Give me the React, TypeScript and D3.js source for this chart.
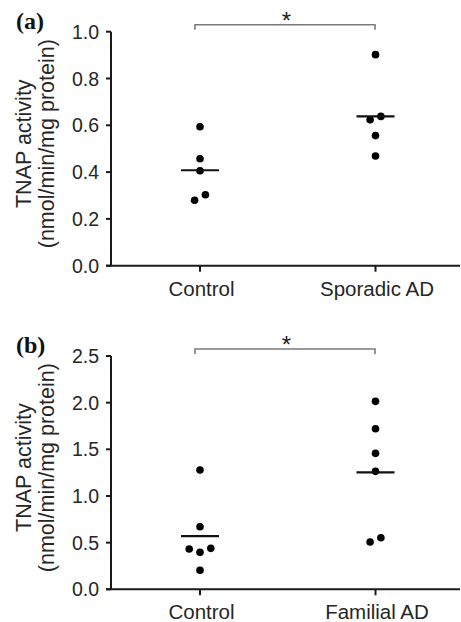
import React from "react";
import * as d3 from "d3";

// ---------- data ----------
const panelLabels = ["(a)", "(b)"];
const categoriesA = ["Control", "Sporadic AD"];
const categoriesB = ["Control", "Familial AD"];

const controlA = [0.594, 0.457, 0.406, 0.303, 0.28];
const sporadicAD = [0.902, 0.638, 0.624, 0.556, 0.469];
const controlB = [1.278, 0.671, 0.432, 0.396, 0.439, 0.204];
const familialAD = [2.014, 1.721, 1.457, 1.264, 0.507, 0.553];

// horizontal jitter slots (column offsets of overlapping dots)
const jitterControlA = [0, 0, 0, 0.5, -0.5];
const jitterSporadic = [0, 0.5, -0.5, 0, 0];
const jitterControlB = [0, 0, -1, 0, 1, 0];
const jitterFamilial = [0, 0, 0, 0, -0.5, 0.5];

const ticksA = [0, 0.2, 0.4, 0.6, 0.8, 1.0];
const ticksB = [0, 0.5, 1.0, 1.5, 2.0, 2.5];

const yTitle1 = "TNAP activity";
const yTitle2 = "(nmol/min/mg protein)";
const sigMark = "*";

// ---------- layout ----------
const W = 461;
const H = 622;
const AXIS_X = 111;
const X_RIGHT = 460;
const CAT_RANGE: [number, number] = [200, 375.5];
const JITTER_UNIT = 10.8;
const MEAN_HALF = 19;
const FONT = "'Liberation Sans', Arial, Helvetica, sans-serif";
const TEXT = "#262626";
const AXIS = "#1a1a1a";

type PanelProps = {
  label: string;
  cats: string[];
  groups: number[][];
  jitters: number[][];
  ticks: number[];
  yTop: number;
  yBottom: number;
};

function Panel({ label, cats, groups, jitters, ticks, yTop, yBottom }: PanelProps) {
  const x = d3.scalePoint<string>().domain(cats).range(CAT_RANGE);
  const y = d3
    .scaleLinear()
    .domain([0, ticks[ticks.length - 1]])
    .range([yBottom, yTop]);
  const fmt = d3.format(".1f");
  const bracketY = yTop - 7;
  const x0 = x(cats[0])! - 5;
  const x1 = x(cats[1])! - 0.5;
  const midY = (yTop + yBottom) / 2 - 5;

  return (
    <g>
      <text
        x={16}
        y={yTop - 3}
        fontFamily="'Liberation Serif', 'Times New Roman', serif"
        fontWeight="bold"
        fontSize={24}
        fill="#111"
      >
        {label}
      </text>

      {/* y axis title */}
      <text
        transform={`translate(31,${midY}) rotate(-90)`}
        textAnchor="middle"
        fontFamily={FONT}
        fontSize={21.5}
        fill={TEXT}
      >
        {yTitle1}
      </text>
      <text
        transform={`translate(53.5,${midY}) rotate(-90)`}
        textAnchor="middle"
        fontFamily={FONT}
        fontSize={21.5}
        fill={TEXT}
      >
        {yTitle2}
      </text>

      {/* axes */}
      <line x1={AXIS_X} x2={AXIS_X} y1={y(ticks[ticks.length - 1])} y2={yBottom} stroke={AXIS} strokeWidth={2} />
      <line x1={AXIS_X - 5} x2={X_RIGHT} y1={yBottom} y2={yBottom} stroke={AXIS} strokeWidth={2} />
      {ticks.map((t) => (
        <g key={t}>
          <line x1={AXIS_X - 5} x2={AXIS_X} y1={y(t)} y2={y(t)} stroke={AXIS} strokeWidth={2} />
          <text
            x={AXIS_X - 12}
            y={y(t)}
            dy="0.36em"
            textAnchor="end"
            fontFamily={FONT}
            fontSize={19.5}
            fill={TEXT}
          >
            {fmt(t)}
          </text>
        </g>
      ))}
      {cats.map((c) => (
        <g key={c}>
          <line x1={x(c)} x2={x(c)} y1={yBottom} y2={yBottom + 6} stroke={AXIS} strokeWidth={2} />
          <text
            x={x(c)! + 1.5}
            y={yBottom + 30}
            textAnchor="middle"
            fontFamily={FONT}
            fontSize={20.5}
            fill={TEXT}
          >
            {c}
          </text>
        </g>
      ))}

      {/* data */}
      {groups.map((vals, gi) => {
        const cx = x(cats[gi])!;
        const m = d3.mean(vals)!;
        return (
          <g key={gi}>
            {vals.map((v, i) => (
              <circle key={i} cx={cx + jitters[gi][i] * JITTER_UNIT} cy={y(v)} r={3.8} fill="#000" />
            ))}
            <line x1={cx - MEAN_HALF} x2={cx + MEAN_HALF} y1={y(m)} y2={y(m)} stroke="#111" strokeWidth={2.2} />
          </g>
        );
      })}

      {/* significance bracket */}
      <path
        d={`M${x0},${bracketY + 5}V${bracketY}H${x1}V${bracketY + 5}`}
        fill="none"
        stroke="#7a7a7a"
        strokeWidth={1.6}
      />
      <text
        x={(x0 + x1) / 2 + 1.5}
        y={bracketY + 4}
        textAnchor="middle"
        fontFamily={FONT}
        fontSize={24}
        fill="#222"
      >
        {sigMark}
      </text>
    </g>
  );
}

export default function App() {
  return (
    <div style={{ position: "absolute", left: 0, top: 0, width: W, height: H, background: "#fff" }}>
      <svg width={W} height={H} viewBox={`0 0 ${W} ${H}`}>
        <rect width={W} height={H} fill="#fff" />
        <Panel
          label={panelLabels[0]}
          cats={categoriesA}
          groups={[controlA, sporadicAD]}
          jitters={[jitterControlA, jitterSporadic]}
          ticks={ticksA}
          yTop={31.7}
          yBottom={265.7}
        />
        <Panel
          label={panelLabels[1]}
          cats={categoriesB}
          groups={[controlB, familialAD]}
          jitters={[jitterControlB, jitterFamilial]}
          ticks={ticksB}
          yTop={356}
          yBottom={589.3}
        />
      </svg>
    </div>
  );
}
